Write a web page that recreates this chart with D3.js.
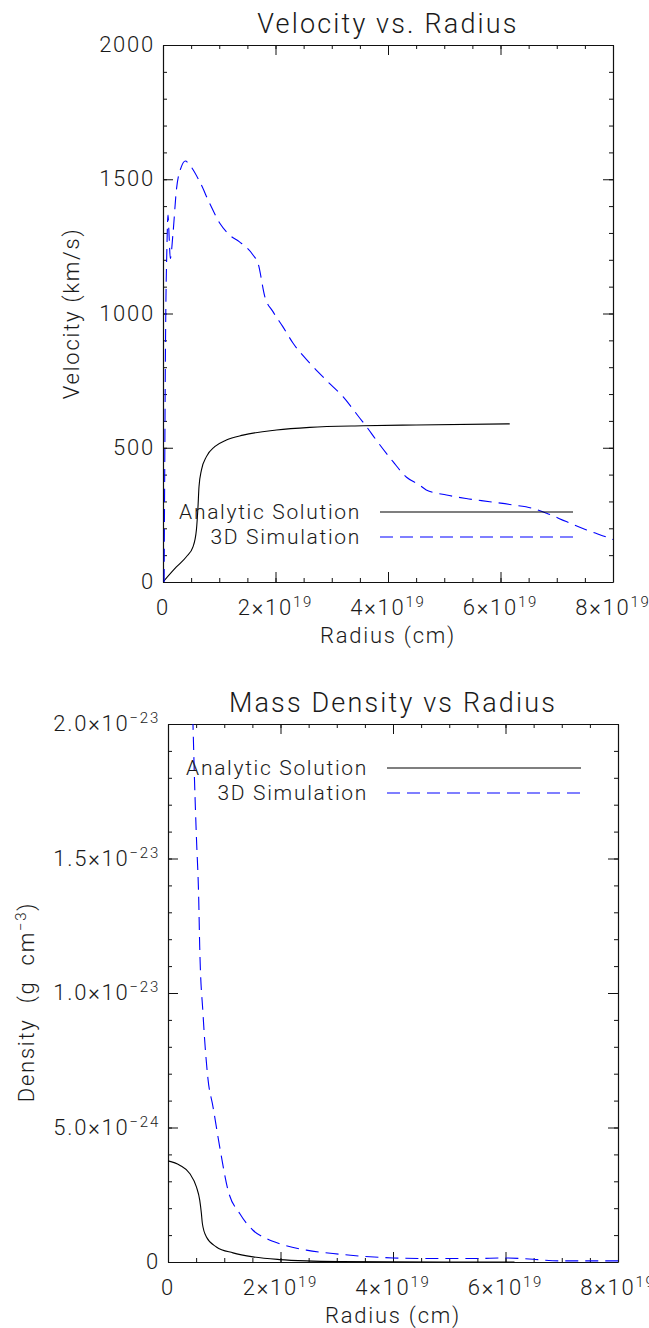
<!DOCTYPE html>
<html>
<head>
<meta charset="utf-8">
<script src="https://cdn.jsdelivr.net/npm/d3@7"></script>
<style>
  body { margin: 0; background: #fff; }
  .chart-box { width: 649px; height: 664px; overflow: hidden; }
</style>
</head>
<body>
<div id="velocity-chart" class="chart-box"></div>
<div id="density-chart" class="chart-box"></div>
<script>
// ---------------- data (radius in cm) ----------------
const radiusTicks = [0, 2e19, 4e19, 6e19, 8e19];
const radiusTickLabels = [["0", ""], ["2×10", "19"], ["4×10", "19"], ["6×10", "19"], ["8×10", "19"]];

const velocityTicks = [0, 500, 1000, 1500, 2000];
const velocityTickLabels = [["0", ""], ["500", ""], ["1000", ""], ["1500", ""], ["2000", ""]];

const densityTicks = [0, 5e-24, 1e-23, 1.5e-23, 2e-23];
const densityTickLabels = [["0", ""], ["5.0×10", "−24"], ["1.0×10", "−23"], ["1.5×10", "−23"], ["2.0×10", "−23"]];

const legendLabels = ["Analytic Solution", "3D Simulation"];

// velocity (km/s)
const analyticVelRadius = [0, 0.238e19, 0.416e19, 0.533e19, 0.594e19, 0.622e19, 0.64e19, 0.683e19, 0.772e19,
  0.919e19, 1.127e19, 1.422e19, 2.016e19, 2.608e19, 3.556e19, 4.5e19, 6.164e19];
const analyticVelocity = [0, 56, 94, 131, 194, 280, 355, 417, 467, 504, 529, 547, 566, 576, 582, 585, 589];

const simVelRadius = [0.02e19, 0.03e19, 0.045e19, 0.07e19, 0.089e19, 0.11e19, 0.13e19, 0.178e19, 0.238e19,
  0.327e19, 0.398e19, 0.475e19, 0.652e19, 0.83e19, 1.01e19, 1.185e19, 1.36e19, 1.6e19, 1.69e19, 1.81e19,
  1.955e19, 2.13e19, 2.31e19, 2.61e19, 2.9e19, 3.2e19, 3.5e19, 3.62e19, 3.79e19, 4.09e19, 4.33e19, 4.56e19,
  4.68e19, 5.04e19, 5.39e19, 5.81e19, 6.22e19, 6.58e19, 6.82e19, 7.17e19, 7.53e19, 7.94e19, 8.0e19];
const simVelocity = [0, 400, 900, 1250, 1367, 1280, 1205, 1299, 1460, 1547, 1568, 1553, 1491, 1410, 1336, 1292,
  1267, 1218, 1187, 1063, 1007, 951, 890, 815, 752, 690, 610, 578, 529, 448, 390, 361, 343, 324, 311, 299,
  287, 274, 256, 225, 194, 163, 158];

// mass density (g cm^-3)
const analyticDensRadius = [0, 0.208e19, 0.386e19, 0.505e19, 0.564e19, 0.594e19, 0.611e19, 0.683e19, 0.86e19,
  1.156e19, 1.511e19, 1.986e19, 2.46e19, 3.05e19, 4.0e19, 5.0e19, 6.16e19];
const analyticDensity = [3.76e-24, 3.6e-24, 3.29e-24, 2.79e-24, 2.3e-24, 1.8e-24, 1.43e-24, 0.93e-24, 0.56e-24,
  0.34e-24, 0.19e-24, 0.09e-24, 0.04e-24, 0.015e-24, 0.005e-24, 0.002e-24, 0.001e-24];

const simDensRadius = [0.43e19, 0.444e19, 0.47e19, 0.505e19, 0.546e19, 0.564e19, 0.622e19, 0.711e19, 0.8e19,
  0.919e19, 1.067e19, 1.275e19, 1.511e19, 1.75e19, 1.986e19, 2.46e19, 3.05e19, 4.0e19, 4.53e19, 5.42e19,
  6.02e19, 6.49e19, 6.96e19, 7.91e19, 8.0e19];
const simDensity = [21e-24, 20e-24, 18e-24, 15.8e-24, 13.5e-24, 11.7e-24, 9.24e-24, 6.8e-24, 5.77e-24, 4.28e-24,
  2.67e-24, 1.8e-24, 1.18e-24, 0.87e-24, 0.68e-24, 0.44e-24, 0.29e-24, 0.15e-24, 0.13e-24, 0.13e-24,
  0.15e-24, 0.1e-24, 0.04e-24, 0.04e-24, 0.04e-24];

class Chart {
  constructor() {
    // Defining state attributes
    const attrs = {
      id: "ID" + Math.floor(Math.random() * 1000000),
      svgWidth: 649,
      svgHeight: 664,
      marginTop: 45,
      marginBottom: 82,
      marginRight: 36,
      marginLeft: 163,
      container: "body",
      defaultTextFill: "#1a1a1a",
      defaultFont: "Roboto, 'Liberation Sans', sans-serif",
      fontSize: 22,
      legendFontSize: 21,
      titleFontSize: 27,
      title: "",
      xTitle: "Radius (cm)",
      yTitle: [["", ""]],
      yTitleX: -84,
      yTitleShift: 0,
      yTitleWordSpacing: 0,
      xDomain: [0, 8e19],
      yDomain: [0, 1],
      xTicks: radiusTicks,
      xTickLabels: radiusTickLabels,
      xMinorStep: 0.5e19,
      yTicks: [],
      yTickLabels: [],
      yMinorStep: 1,
      series: [],
      legendTextX: 198,
      legendLineX: [217, 410],
      legendY: 474,
      legendGap: 25,
      chartWidth: null,
      chartHeight: null
    };

    this.getState = () => attrs;
    this.setState = (d) => Object.assign(attrs, d);

    Object.keys(attrs).forEach((key) => {
      this[key] = function (_) {
        if (!arguments.length) {
          return attrs[key];
        }
        attrs[key] = _;
        return this;
      };
    });

    this.initializeEnterExitUpdatePattern();
  }

  render() {
    this.calculateProperties();
    this.drawSvgAndWrappers();
    this.drawAxes();
    this.drawLines();
    this.drawTexts();
    this.drawLegend();
    return this;
  }

  calculateProperties() {
    const { marginLeft, marginTop, marginRight, marginBottom, svgWidth, svgHeight, xDomain, yDomain } = this.getState();
    const chartWidth = svgWidth - marginRight - marginLeft;
    const chartHeight = svgHeight - marginBottom - marginTop;
    const x = d3.scaleLinear().domain(xDomain).range([0, chartWidth]);
    const y = d3.scaleLinear().domain(yDomain).range([chartHeight, 0]);
    this.setState({ chartWidth, chartHeight, x, y });
  }

  drawSvgAndWrappers() {
    const { container, svgWidth, svgHeight, defaultFont, marginLeft, marginTop, id, chartWidth, chartHeight } = this.getState();

    const svg = d3.select(container)
      ._add({ tag: "svg", className: "svg-chart-container" })
      .attr("width", svgWidth)
      .attr("height", svgHeight)
      .attr("font-family", defaultFont);

    svg._add({ tag: "clipPath", className: "plot-clip" })
      .attr("id", "clip" + id)
      ._add({ tag: "rect", className: "plot-clip-rect" })
      .attr("width", chartWidth)
      .attr("height", chartHeight);

    const chart = svg
      ._add({ tag: "g", className: "chart" })
      .attr("transform", "translate(" + marginLeft + "," + marginTop + ")");

    this.setState({ chart, svg });
  }

  drawAxes() {
    const { chart, x, y, chartWidth, chartHeight, xTicks, yTicks, xMinorStep, yMinorStep, xDomain, yDomain } = this.getState();

    const xMinor = d3.range(xDomain[0], xDomain[1] + xMinorStep / 2, xMinorStep);
    const yMinor = d3.range(yDomain[0], yDomain[1] + yMinorStep / 2, yMinorStep);

    const axes = [
      { cls: "x-bottom", gen: d3.axisBottom(x), pos: [0, chartHeight], major: xTicks, minor: xMinor },
      { cls: "x-top", gen: d3.axisTop(x), pos: [0, 0], major: xTicks, minor: xMinor },
      { cls: "y-left", gen: d3.axisLeft(y), pos: [0, 0], major: yTicks, minor: yMinor },
      { cls: "y-right", gen: d3.axisRight(y), pos: [chartWidth, 0], major: yTicks, minor: yMinor }
    ];

    axes.forEach(a => {
      const gMinor = chart._add({ tag: "g", className: a.cls + "-minor" })
        .attr("transform", "translate(" + a.pos[0] + "," + a.pos[1] + ")")
        .call(a.gen.tickValues(a.minor).tickSize(-4).tickSizeOuter(0).tickFormat(""));
      gMinor.select(".domain").remove();

      const gMajor = chart._add({ tag: "g", className: a.cls + "-major" })
        .attr("transform", "translate(" + a.pos[0] + "," + a.pos[1] + ")")
        .call(a.gen.tickValues(a.major).tickSize(-10).tickSizeOuter(0).tickFormat(""));
      gMajor.select(".domain").attr("stroke", "#111").attr("stroke-width", 1.2);
    });

    chart.selectAll(".tick line").attr("stroke", "#111").attr("stroke-width", 1);
    chart.selectAll(".tick text").remove();
  }

  drawLines() {
    const { chart, x, y, series, id } = this.getState();

    const line = d3.line()
      .x(d => x(d[0]))
      .y(d => y(d[1]))
      .curve(d3.curveMonotoneX);

    const plot = chart._add({ tag: "g", className: "plot-area" })
      .attr("clip-path", "url(#clip" + id + ")");

    plot._add({ tag: "path", className: "series-line", data: series })
      .attr("fill", "none")
      .attr("stroke", d => d.color)
      .attr("stroke-width", 1.1)
      .attr("stroke-dasharray", d => d.dash)
      .attr("d", d => line(d3.zip(d.xs, d.ys)));
  }

  drawTexts() {
    const { chart, x, y, chartWidth, chartHeight, xTicks, xTickLabels, yTicks, yTickLabels,
      title, xTitle, yTitle, yTitleX, yTitleShift, yTitleWordSpacing, defaultTextFill, fontSize, titleFontSize } = this.getState();

    const styleText = sel => sel
      .attr("fill", defaultTextFill)
      .attr("font-size", fontSize)
      .attr("font-weight", 300)
      .attr("letter-spacing", "0.08em");

    const fillParts = (sel, parts) => {
      sel.text(null);
      parts.forEach((p, i) => {
        if (!p[0]) return;
        const t = sel.append("tspan").text(p[0]);
        if (p[1] === "sup") t.attr("dy", -8).attr("font-size", 15);
        else if (i > 0 && parts[i - 1][1] === "sup") t.attr("dy", 8);
      });
    };

    // x tick labels
    chart._add({ tag: "text", className: "x-tick-label", data: xTicks })
      .call(styleText)
      .attr("text-anchor", "middle")
      .attr("x", d => x(d))
      .attr("y", chartHeight + 33)
      .each(function (d, i) {
        const lab = xTickLabels[i];
        fillParts(d3.select(this), [[lab[0], ""], [lab[1], "sup"]]);
      });

    // y tick labels
    chart._add({ tag: "text", className: "y-tick-label", data: yTicks })
      .call(styleText)
      .attr("text-anchor", "end")
      .attr("x", -8)
      .attr("y", d => y(d) + 7)
      .each(function (d, i) {
        const lab = yTickLabels[i];
        fillParts(d3.select(this), [[lab[0], ""], [lab[1], "sup"]]);
      });

    chart._add({ tag: "text", className: "chart-title" })
      .call(styleText)
      .attr("font-size", titleFontSize)
      .attr("text-anchor", "middle")
      .attr("x", chartWidth / 2)
      .attr("y", -12)
      .text(title);

    chart._add({ tag: "text", className: "x-title" })
      .call(styleText)
      .attr("text-anchor", "middle")
      .attr("x", chartWidth / 2)
      .attr("y", chartHeight + 61)
      .text(xTitle);

    chart._add({ tag: "text", className: "y-title" })
      .call(styleText)
      .attr("word-spacing", yTitleWordSpacing)
      .attr("text-anchor", "middle")
      .attr("transform", "translate(" + yTitleX + "," + (chartHeight / 2 + yTitleShift) + ") rotate(-90)")
      .each(function () { fillParts(d3.select(this), yTitle); });
  }

  drawLegend() {
    const { chart, series, legendTextX, legendLineX, legendY, legendGap, defaultTextFill, legendFontSize } = this.getState();

    const rows = chart._add({ tag: "g", className: "legend-row", data: series })
      .attr("transform", (d, i) => "translate(0," + (legendY + i * legendGap) + ")");

    rows._add({ tag: "text", className: "legend-text", data: d => [d] })
      .attr("fill", defaultTextFill)
      .attr("font-size", legendFontSize)
      .attr("font-weight", 300)
      .attr("letter-spacing", "0.08em")
      .attr("text-anchor", "end")
      .attr("x", legendTextX)
      .text(d => d.label);

    rows._add({ tag: "line", className: "legend-line", data: d => [d] })
      .attr("x1", legendLineX[0])
      .attr("x2", legendLineX[1])
      .attr("y1", -7)
      .attr("y2", -7)
      .attr("stroke", d => d.color)
      .attr("stroke-width", 1.1)
      .attr("stroke-dasharray", d => d.dash);
  }

  initializeEnterExitUpdatePattern() {
    d3.selection.prototype._add = function (params) {
      let container = this;
      let className = params.className;
      let elementTag = params.tag;
      let data = params.data || [className];
      let selection = container.selectAll("." + className).data(data, (d, i) => {
        if (typeof d === "object" && d.id) return d.id;
        return i;
      });
      selection.exit().remove();
      const enterSelection = selection.enter().append(elementTag);
      selection = enterSelection.merge(selection);
      selection.attr("class", className);
      return selection;
    };
  }
}

const analyticStyle = { color: "#000000", dash: null };
const simStyle = { color: "#0000ff", dash: "13,7" };

new Chart()
  .container("#velocity-chart")
  .marginTop(45)
  .marginBottom(82)
  .marginLeft(163)
  .marginRight(36)
  .title("Velocity vs. Radius")
  .yTitle([["Velocity (km/s)", ""]])
  .yTitleX(-84)
  .yDomain([0, 2000])
  .yTicks(velocityTicks)
  .yTickLabels(velocityTickLabels)
  .yMinorStep(100)
  .legendTextX(198)
  .legendLineX([217, 410])
  .legendY(474)
  .series([
    Object.assign({ label: legendLabels[0], xs: analyticVelRadius, ys: analyticVelocity }, analyticStyle),
    Object.assign({ label: legendLabels[1], xs: simVelRadius, ys: simVelocity }, simStyle)
  ])
  .render();

new Chart()
  .container("#density-chart")
  .marginTop(60)
  .marginBottom(66)
  .marginLeft(168)
  .marginRight(31)
  .title("Mass Density vs Radius")
  .yTitle([["Density (g cm", ""], ["−3", "sup"], [")", ""]])
  .yTitleX(-134)
  .yTitleShift(9)
  .yTitleWordSpacing(8)
  .yDomain([0, 2e-23])
  .yTicks(densityTicks)
  .yTickLabels(densityTickLabels)
  .yMinorStep(1e-24)
  .legendTextX(200)
  .legendLineX([219, 413])
  .legendY(51)
  .series([
    Object.assign({ label: legendLabels[0], xs: analyticDensRadius, ys: analyticDensity }, analyticStyle),
    Object.assign({ label: legendLabels[1], xs: simDensRadius, ys: simDensity }, simStyle)
  ])
  .render();
</script>
</body>
</html>
